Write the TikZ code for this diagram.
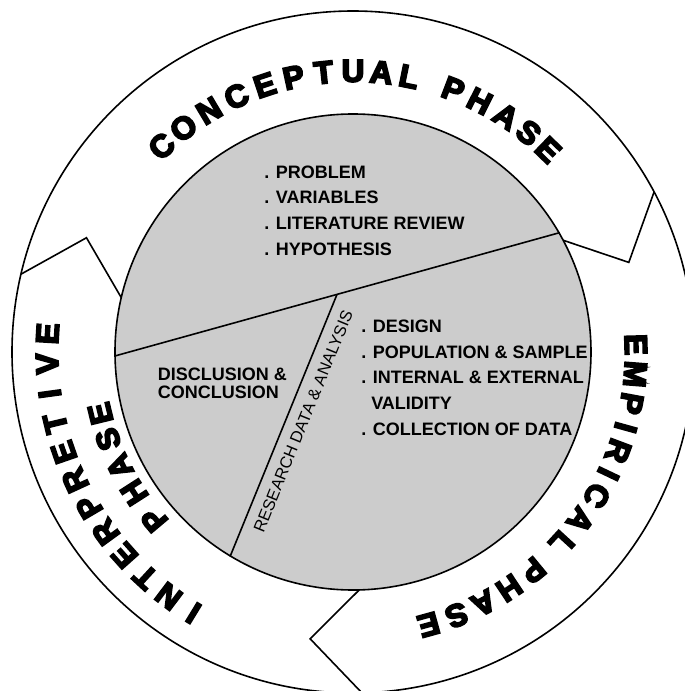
\documentclass[tikz,border=0pt]{standalone}
\usepackage{fontspec}
\setmainfont{Liberation Sans}
\newfontfamily\phasefont{Liberation Sans Bold}[FakeBold=6]
\usetikzlibrary{calc,positioning}

\begin{document}
\begin{tikzpicture}[x=1pt,y=1pt,line width=1.6pt]
  \tikzstyle{disc}=[circle,draw,fill=black!20,minimum size=476pt,inner sep=0pt]
  \tikzstyle{item}=[anchor=base west,inner sep=0pt,font=\fontsize{18}{22}\bfseries]
  \tikzstyle{letter}=[inner sep=0pt,font=\phasefont\fontsize{31.5}{33}\selectfont]

  \useasboundingbox (-353,-339) rectangle (332,352);

  % outer ring and the shaded core
  \draw (0,0) circle (341);
  \node[disc] (core) at (0,0) {};

  % chevrons between the phases
  \foreach \ang in {28,-88.5,166.8}
    \draw[line join=miter] (\ang:341) -- (\ang-10:290) -- (\ang:238);

  % split of the core
  \coordinate (split) at ($(core.181.7)!0.5!(core.30.7)$);
  \draw (core.181.7) -- (core.30.7);
  \draw (core.239.5) -- (split)
    node[pos=0.54,sloped,below=8pt,inner sep=2pt,font=\fontsize{16.5}{18}\selectfont] (rda) {RESEARCH DATA \& ANALYSIS};

  % phase names round the ring
  \foreach \ch/\ang in {C/132.9,O/127.1,N/120.8,C/114.5,E/108.3,P/102.2,T/96.0,U/90.0,A/84.2,L/78.5,
                        P/69.1,H/63.2,A/57,S/51.3,E/46}
    \node[letter,rotate=\ang-90] at (\ang:281) {\ch};
  \foreach \ch/\ang in {E/1.5,M/-4.5,P/-10.5,I/-15.5,R/-20.5,I/-25.5,C/-30.5,A/-36.5,L/-42.5,
                        P/-50.5,H/-56.5,A/-62.5,S/-68.5,E/-74.5}
    \node[letter,rotate=\ang-90] at (\ang:283) {\ch};
  \foreach \ch [count=\i] in {I,N,T,E,R,P,R,E,T,I,V,E}
    \node[letter,rotate=238.6-5.64*\i+5.64-90] at ({238.6-5.64*(\i-1)}:306) {\ch};
  \foreach \ch/\ang in {P/220.1,H/212.7,A/206.1,S/199.6,E/193.7}
    \node[letter,rotate=\ang-90] at (\ang:260) {\ch};

  % contents of each part
  \foreach \txt [count=\i] in {. PROBLEM,. VARIABLES,. LITERATURE REVIEW,. HYPOTHESIS}
    \node[item] (plan-\i) at (-89.5,{173.7-25.6*(\i-1)}) {\txt};
  \foreach \txt [count=\i] in {. DESIGN,. POPULATION \& SAMPLE,. INTERNAL \& EXTERNAL,
                               \hphantom{.} VALIDITY,. COLLECTION OF DATA}
    \node[item] (field-\i) at (7.5,{19.4-25.6*(\i-1)}) {\txt};
  \node[item,anchor=north west,align=left,font=\fontsize{18}{18.3}\bfseries] (close) at (-196,-15.1)
    {DISCLUSION \&\\CONCLUSION};
\end{tikzpicture}
\end{document}
